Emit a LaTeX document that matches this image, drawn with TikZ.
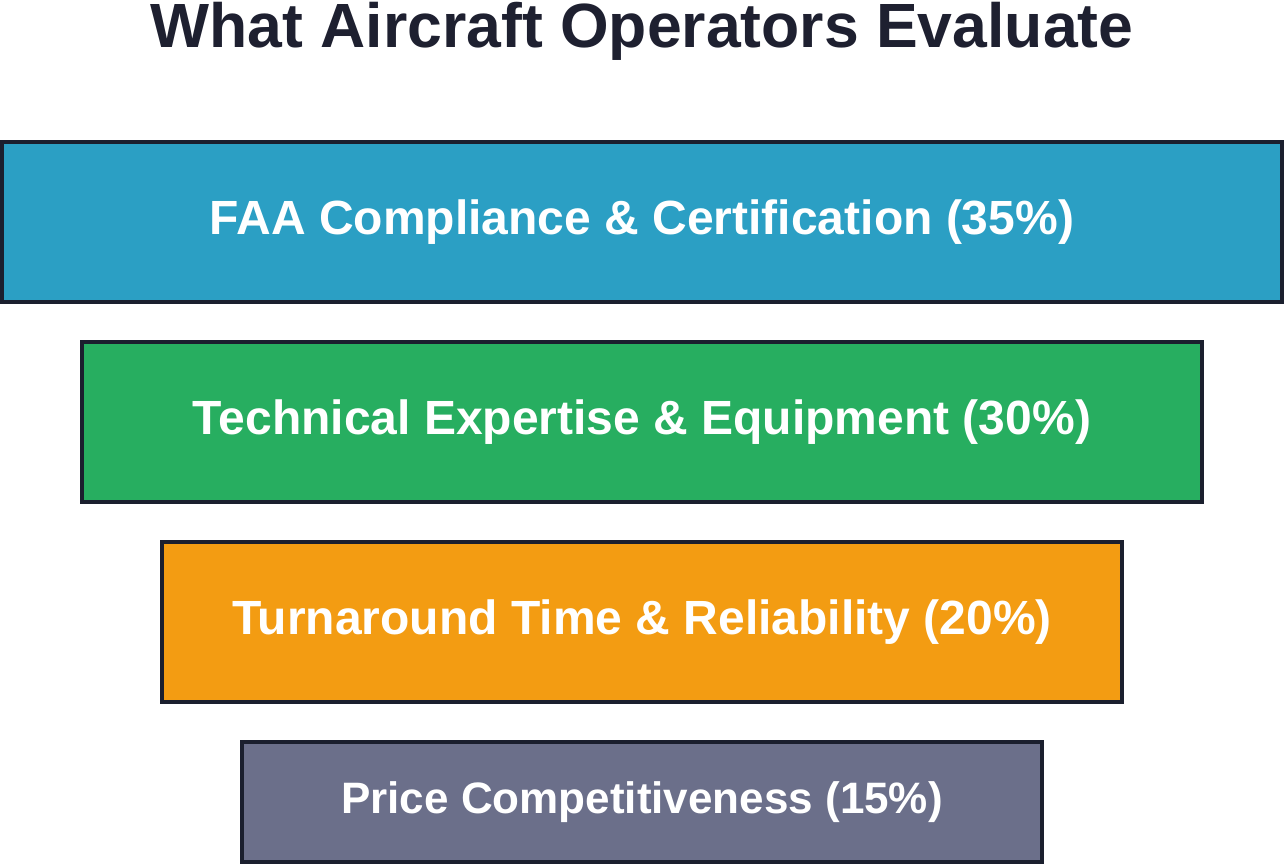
\documentclass[tikz,border=0pt]{standalone}
\usepackage{fontspec}
\setmainfont{Liberation Sans}
\definecolor{bordercol}{HTML}{1B1F2E}
\definecolor{titlecol}{HTML}{1E2030}
\definecolor{c1}{HTML}{2B9FC4}
\definecolor{c2}{HTML}{27AE60}
\definecolor{c3}{HTML}{F39C12}
\definecolor{c4}{HTML}{6B6F8A}
\tikzset{
  tier/.style={draw=bordercol, line width=4pt, minimum height=160pt, inner sep=0pt, outer sep=0pt,
    text=white, font=\bfseries\fontsize{48}{56}\selectfont},
}
\begin{document}
\begin{tikzpicture}[x=1pt,y=-1pt]
\useasboundingbox (0,0) rectangle (1284,864);
\node[font=\bfseries\fontsize{62.5}{72}\selectfont, text=titlecol, anchor=base, inner sep=0pt] (title) at (642,48) {What Aircraft Operators Evaluate};
\node[tier, fill=c1, minimum width=1280pt] (t1) at (642,222) {FAA Compliance \& Certification (35\%)};
\node[tier, fill=c2, minimum width=1120pt] (t2) at (642,422) {Technical Expertise \& Equipment (30\%)};
\node[tier, fill=c3, minimum width=960pt] (t3) at (642,622) {Turnaround Time \& Reliability (20\%)};
\node[tier, fill=c4, minimum width=800pt, minimum height=120pt, font=\bfseries\fontsize{44}{52}\selectfont] (t4) at (642,802) {Price Competitiveness (15\%)};
\end{tikzpicture}
\end{document}
